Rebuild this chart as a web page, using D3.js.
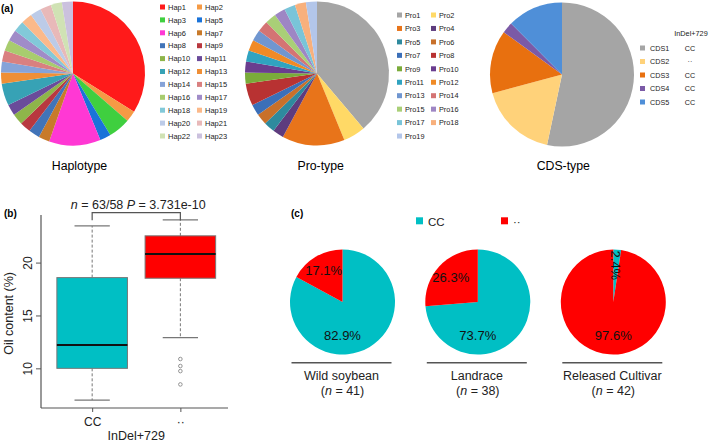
<!DOCTYPE html>
<html><head><meta charset="utf-8">
<script src="https://cdn.jsdelivr.net/npm/d3@7"></script>
<style>body{margin:0;background:#fff}svg{display:block;font-family:"Liberation Sans",Arial,Helvetica,sans-serif}</style>
</head><body><svg id="c" width="709" height="443"></svg>
<script>
// ---------- DATA ----------
const hapLabels = ["Hap1","Hap2","Hap3","Hap5","Hap6","Hap7","Hap8","Hap9","Hap10","Hap11","Hap12","Hap13","Hap14","Hap15","Hap16","Hap17","Hap18","Hap19","Hap20","Hap21","Hap22","Hap23"];
const hapValues = [41,3,6,3,14,3,3,3,3,3,6,3,3,3,3,3,3,3,3,3,3,3];
const hapColors = ["#ff1a1a","#f59a45","#3fcf3f","#1a73d9","#ff38d4","#c87a2a","#4174b8","#b8383f","#8eb54a","#6a4b9a","#37a2b5","#ef8f36","#86a3d8","#d98080","#a8cc6e","#a08cc8","#82c9d9","#fbb98a","#bccbe8","#e8b9b9","#d0e2b4","#cbc1de"];

const proLabels = ["Pro1","Pro2","Pro3","Pro4","Pro5","Pro6","Pro7","Pro8","Pro9","Pro10","Pro11","Pro12","Pro13","Pro14","Pro15","Pro16","Pro17","Pro18","Pro19"];
const proValues = [47,6,17,3,3,3,3,6,3,3,3,3,3,3,3,3,3,3,3];
const proColors = ["#a5a5a5","#ffd966","#e8741a","#5e3c7e","#2e8a9e","#c8702a","#3b6fb8","#b83232","#7aab3a","#6a3d8f","#30a3c0","#f08a26","#7096d0","#d47474","#a9cf77","#9e86c4","#79c4d8","#f8b07c","#b3c6ea"];

const cdsLabels = ["CDS1","CDS2","CDS3","CDS4","CDS5"];
const cdsValues = [64,21,17,3,15];
const cdsGenotype = ["CC","··","CC","CC","CC"];
const cdsColors = ["#a5a5a5","#ffd27a","#e8700f","#7b5aa6","#4f8fd8"];

const genotypes = ["CC","··"];
const genoColors = ["#00bfc4","#ff0000"];
// box plot stats: [low whisker, q1, median, q3, high whisker]
const boxStats = [[7.0,10.0,12.2,18.58,23.47],[12.9,18.52,20.82,22.53,24.04]];
const boxOutliers = [[],[10.88,10.22,9.74,8.48]];
const boxN = [63,58];
const yTicks = [10,15,20];

const groups = ["Wild soybean","Landrace","Released Cultivar"];
const groupN = [41,38,42];
const groupCC = [34,28,1];   // CC counts; remainder are ··

// ---------- DRAW ----------
const svg = d3.select("#c");
const FONT = '"Liberation Sans",Arial,Helvetica,sans-serif';

function panelLabel(t,x,y){svg.append("text").attr("x",x).attr("y",y).attr("font-size",10).attr("font-weight","bold").text(t);}
panelLabel("(a)",1,11.5); panelLabel("(b)",4,216.5); panelLabel("(c)",291,216.5);

const pie = d3.pie().sort(null).value(d=>d);

function drawPie(values, colors, cx, cy, r){
  const g = svg.append("g").attr("transform",`translate(${cx},${cy})`);
  const arc = d3.arc().innerRadius(0).outerRadius(r);
  g.selectAll("path").data(pie(values)).join("path")
    .attr("d",arc).attr("fill",(d,i)=>colors[i]);
  return g;
}

// (a) haplotype
drawPie(hapValues,hapColors,73,73.5,72);
const hapLeg = svg.append("g");
hapLabels.forEach((l,i)=>{
  const col=i%2,row=Math.floor(i/2);
  const x=160+col*37, y=7+row*12.9;
  hapLeg.append("rect").attr("x",x).attr("y",y-2.5).attr("width",5).attr("height",5).attr("fill",hapColors[i]);
  hapLeg.append("text").attr("x",x+8).attr("y",y+2.7).attr("font-size",7.5).attr("fill","#222").text(l);
});
svg.append("text").attr("x",79.5).attr("y",170).attr("text-anchor","middle").attr("font-size",12.3).text("Haplotype");

// pro-type
drawPie(proValues,proColors,317,73.5,72);
proLabels.forEach((l,i)=>{
  const col=i%2,row=Math.floor(i/2);
  const x=397+col*34, y=15+row*13.45;
  svg.append("rect").attr("x",x).attr("y",y-2.5).attr("width",5).attr("height",5).attr("fill",proColors[i]);
  svg.append("text").attr("x",x+8).attr("y",y+2.7).attr("font-size",7.3).attr("fill","#222").text(l);
});
svg.append("text").attr("x",320.7).attr("y",170).attr("text-anchor","middle").attr("font-size",12.3).text("Pro-type");

// CDS-type
drawPie(cdsValues,cdsColors,562,74.5,72);
svg.append("text").attr("x",691).attr("y",35.5).attr("text-anchor","middle").attr("font-size",7.3).attr("fill","#222").text("InDel+729");
cdsLabels.forEach((l,i)=>{
  const y=48+i*13.5;
  svg.append("rect").attr("x",640).attr("y",y-2.5).attr("width",5).attr("height",5).attr("fill",cdsColors[i]);
  svg.append("text").attr("x",650).attr("y",y+2.6).attr("font-size",7.2).attr("fill","#222").text(l);
  svg.append("text").attr("x",690).attr("y",y+2.6).attr("text-anchor","middle").attr("font-size",7.2).attr("fill","#222").text(cdsGenotype[i]);
});
svg.append("text").attr("x",563.3).attr("y",170).attr("text-anchor","middle").attr("font-size",12.3).text("CDS-type");

// (b) box plot
const xb = d3.scaleLinear().domain([0.42,2.54]).range([41,228]);
const yb = d3.scaleLinear().domain([6.25,24.5]).range([408,215]);
const axisCol="#555";
const gb = svg.append("g");
gb.append("line").attr("x1",xb(0.42)).attr("x2",xb(0.42)).attr("y1",yb(24.5)).attr("y2",yb(6.25)).attr("stroke",axisCol).attr("stroke-width",1.2);
gb.append("line").attr("x1",xb(0.42)).attr("x2",xb(2.54)).attr("y1",yb(6.25)).attr("y2",yb(6.25)).attr("stroke",axisCol).attr("stroke-width",1.2);
// y ticks
const ya = d3.axisLeft(yb).tickValues(yTicks).tickSize(5).tickFormat(d3.format("d"));
const yag = gb.append("g").attr("transform",`translate(${xb(0.42)},0)`).call(ya);
yag.select(".domain").remove();
yag.selectAll(".tick line").attr("stroke",axisCol);
yag.selectAll(".tick text").attr("font-family",FONT).attr("font-size",12).attr("fill","#222")
  .attr("transform","rotate(-90)").attr("x",0).attr("y",-9).attr("dy",0).attr("text-anchor","middle");
// x ticks
const xa = d3.axisBottom(xb).tickValues([1,2]).tickSize(4).tickFormat((d,i)=>genotypes[i]);
const xag = gb.append("g").attr("transform",`translate(0,${yb(6.25)})`).call(xa);
xag.select(".domain").remove();
xag.selectAll(".tick line").attr("stroke",axisCol);
xag.selectAll(".tick text").attr("font-family",FONT).attr("font-size",12).attr("fill","#222").attr("y",8).attr("dy","0.8em");
gb.append("text").attr("x",9).attr("y",yb(15.2)).attr("transform",`rotate(-90,9,${yb(15.2)})`).attr("dy","0.35em")
  .attr("text-anchor","middle").attr("font-size",12.5).attr("fill","#222").text("Oil content (%)");
gb.append("text").attr("x",(xb(1)+xb(2))/2).attr("y",440).attr("text-anchor","middle").attr("font-size",12.5).attr("fill","#222").text("InDel+729");

boxStats.forEach((s,i)=>{
  const cx=xb(i+1), hw=(xb(1.4)-xb(1)), cw=(xb(1.2)-xb(1));
  // whiskers
  gb.append("line").attr("x1",cx).attr("x2",cx).attr("y1",yb(s[3])).attr("y2",yb(s[4])).attr("stroke","#777").attr("stroke-dasharray","3,2");
  gb.append("line").attr("x1",cx).attr("x2",cx).attr("y1",yb(s[1])).attr("y2",yb(s[0])).attr("stroke","#777").attr("stroke-dasharray","3,2");
  [s[0],s[4]].forEach(v=>gb.append("line").attr("x1",cx-cw).attr("x2",cx+cw).attr("y1",yb(v)).attr("y2",yb(v)).attr("stroke","#777").attr("stroke-width",1.2));
  gb.append("rect").attr("x",cx-hw).attr("width",2*hw).attr("y",yb(s[3])).attr("height",yb(s[1])-yb(s[3]))
    .attr("fill",genoColors[i]).attr("stroke","#777").attr("stroke-width",1);
  gb.append("line").attr("x1",cx-hw).attr("x2",cx+hw).attr("y1",yb(s[2])).attr("y2",yb(s[2])).attr("stroke","#111").attr("stroke-width",2);
  boxOutliers[i].forEach(v=>gb.append("circle").attr("cx",cx).attr("cy",yb(v)).attr("r",1.8).attr("fill","none").attr("stroke","#888").attr("stroke-width",0.9));
});
// bracket
const bY=212.7;
gb.append("path").attr("d",`M${xb(1)},${bY+7.5}V${bY}H${xb(2)}V${bY+7.5}`).attr("fill","none").attr("stroke","#555").attr("stroke-width",1.2);
const bt = gb.append("text").attr("x",(xb(1)+xb(2))/2+2).attr("y",208.5).attr("text-anchor","middle").attr("font-size",12.5).attr("fill","#222");
bt.append("tspan").attr("font-style","italic").text("n");
bt.append("tspan").text(` = ${boxN[0]}/${boxN[1]} `);
bt.append("tspan").attr("font-style","italic").text("P");
bt.append("tspan").text(" = 3.731e-10");

// (c) legend
genotypes.forEach((g,i)=>{
  const x=416+i*85;
  svg.append("rect").attr("x",x).attr("y",217.3).attr("width",7).attr("height",7).attr("fill",genoColors[i]);
  svg.append("text").attr("x",x+12).attr("y",225.5).attr("font-size",11.5).attr("fill","#222").text(g);
});
// (c) pies
const pieCx=[342.5,477.8,613.3], pieCy=302, pieR=52.5;
groups.forEach((name,gi)=>{
  const vals=[groupCC[gi], groupN[gi]-groupCC[gi]];
  const g=drawPie(vals,genoColors,pieCx[gi],pieCy,pieR);
  const arcs=pie(vals);
  const lab=d3.arc().innerRadius(pieR*0.7).outerRadius(pieR*0.7);
  arcs.forEach((a,i)=>{
    const pct=(100*a.value/groupN[gi]).toFixed(1)+"%";
    const frac=a.value/groupN[gi];
    let x,y,rot=0;
    if(frac>0.5){x=0;y=pieR*0.64;}
    else {[x,y]=lab.centroid(a); if(frac<0.05) rot=90;}
    g.append("text").attr("x",x).attr("y",y).attr("dy","0.35em").attr("text-anchor","middle")
      .attr("transform",rot?`rotate(${rot},${x},${y})`:null)
      .attr("font-size",13).attr("fill","#111").text(pct);
  });
  const cx=pieCx[gi]-1;
  svg.append("line").attr("x1",cx-50).attr("x2",cx+50).attr("y1",362.7).attr("y2",362.7).attr("stroke","#555").attr("stroke-width",1.5);
  svg.append("text").attr("x",cx).attr("y",379.5).attr("text-anchor","middle").attr("font-size",12.5).attr("fill","#222").text(name);
  const nt=svg.append("text").attr("x",cx+1).attr("y",394.5).attr("text-anchor","middle").attr("font-size",12.5).attr("fill","#222");
  nt.append("tspan").text("(");
  nt.append("tspan").attr("font-style","italic").text("n");
  nt.append("tspan").text(` = ${groupN[gi]})`);
});
</script></body></html>
